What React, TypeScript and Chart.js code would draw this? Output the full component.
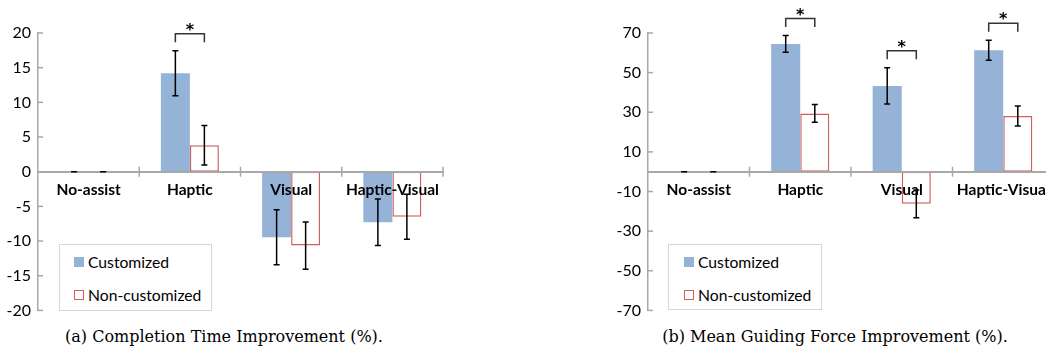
import React, { useEffect, useRef } from "react";
import { Chart, registerables } from "chart.js";
Chart.register(...registerables);

const categories = ["No-assist", "Haptic", "Visual", "Haptic-Visual"];
const seriesNames = ["Customized", "Non-customized"];

// (a) Completion time improvement (%)
const timeCustomized = [0, 14.2, -9.45, -7.3];
const timeCustomizedErr = [0, 3.25, 3.95, 3.35];
const timeNonCustomized = [0, 3.8, -10.65, -6.5];
const timeNonCustomizedErr = [0, 2.85, 3.4, 3.25];
const timeSignificant = [false, true, false, false];
const timeTicks = [-20, -15, -10, -5, 0, 5, 10, 15, 20];
const timeCaption = "(a) Completion Time Improvement (%).";

// (b) Mean guiding force improvement (%)
const forceCustomized = [0, 64.5, 43.3, 61.3];
const forceCustomizedErr = [0, 4.2, 9.1, 5.0];
const forceNonCustomized = [0, 29.4, -16.2, 28.1];
const forceNonCustomizedErr = [0, 4.5, 7.0, 5.0];
const forceSignificant = [false, true, true, true];
const forceTicks = [-70, -50, -30, -10, 10, 30, 50, 70];
const forceCaption = "(b) Mean Guiding Force Improvement (%).";

const BLUE = "#95B3D7";
const RED = "#D06060";
const AXIS = "#A8A8A8";
const SANS = "Lato, 'Open Sans', sans-serif";
const CANVAS_H = 327;

function makeOverlay(errs: number[][], sig: boolean[], ticks: number[]) {
  return {
    id: "overlay",
    afterDraw(chart: any) {
      const ctx = chart.ctx;
      const xs = chart.scales.x;
      const ys = chart.scales.y;
      const y0 = ys.getPixelForValue(0);
      const n = categories.length;
      const cw = (xs.right - xs.left) / n;
      ctx.save();
      // category separators across the zero line
      ctx.strokeStyle = AXIS;
      ctx.lineWidth = 1.5;
      for (let i = 1; i <= n; i++) {
        const px = xs.left + i * cw;
        ctx.beginPath();
        ctx.moveTo(px, y0 - 5);
        ctx.lineTo(px, y0 + 5);
        ctx.stroke();
      }
      // inward y tick marks
      for (const t of ticks) {
        const py = ys.getPixelForValue(t);
        ctx.beginPath();
        ctx.moveTo(ys.right, py);
        ctx.lineTo(ys.right + 5, py);
        ctx.stroke();
      }
      // error bars
      ctx.strokeStyle = "#000";
      ctx.lineWidth = 1.5;
      const tops: number[][] = [];
      chart.data.datasets.forEach((ds: any, di: number) => {
        const meta = chart.getDatasetMeta(di);
        tops[di] = [];
        meta.data.forEach((el: any, i: number) => {
          const v = ds.data[i];
          const e = errs[di][i];
          const yt = ys.getPixelForValue(v + e);
          const yb = ys.getPixelForValue(v - e);
          tops[di][i] = yt;
          ctx.beginPath();
          ctx.moveTo(el.x, yt);
          ctx.lineTo(el.x, yb);
          ctx.moveTo(el.x - 3, yt);
          ctx.lineTo(el.x + 3, yt);
          ctx.moveTo(el.x - 3, yb);
          ctx.lineTo(el.x + 3, yb);
          ctx.stroke();
        });
      });
      // significance brackets
      const m0 = chart.getDatasetMeta(0);
      const m1 = chart.getDatasetMeta(1);
      sig.forEach((s, i) => {
        if (!s) return;
        const x1 = m0.data[i].x;
        const x2 = m1.data[i].x;
        const top = Math.min(tops[0][i], tops[1][i]) - 17;
        ctx.strokeStyle = "#333";
        ctx.lineWidth = 1.5;
        ctx.beginPath();
        ctx.moveTo(x1, top + 8.5);
        ctx.lineTo(x1, top);
        ctx.lineTo(x2, top);
        ctx.lineTo(x2, top + 8.5);
        ctx.stroke();
        ctx.fillStyle = "#000";
        ctx.font = "bold 16px 'DejaVu Sans'";
        ctx.textAlign = "center";
        ctx.textBaseline = "alphabetic";
        ctx.fillText("*", (x1 + x2) / 2, top + 1);
      });
      ctx.restore();
    },
  };
}

function BarPanel(props: {
  left: number;
  width: number;
  yAxisWidth: number;
  padRight: number;
  cust: number[];
  custErr: number[];
  non: number[];
  nonErr: number[];
  sig: boolean[];
  ticks: number[];
}) {
  const ref = useRef<HTMLCanvasElement>(null);
  useEffect(() => {
    const { cust, custErr, non, nonErr, sig, ticks, yAxisWidth, padRight } = props;
    const chart = new Chart(ref.current!, {
      type: "bar",
      data: {
        labels: categories,
        datasets: [
          {
            label: seriesNames[0],
            data: cust,
            backgroundColor: BLUE,
            borderWidth: 0,
            barPercentage: 1,
            categoryPercentage: 0.573,
          },
          {
            label: seriesNames[1],
            data: non,
            backgroundColor: "#FFFFFF",
            borderColor: RED,
            borderWidth: 1.5,
            borderSkipped: false,
            barPercentage: 1,
            categoryPercentage: 0.573,
          },
        ],
      },
      options: {
        animation: false,
        responsive: false,
        devicePixelRatio: 1,
        layout: { padding: { top: 33, bottom: 10, left: 0, right: padRight } },
        plugins: { legend: { display: false }, tooltip: { enabled: false } },
        scales: {
          x: {
            type: "category",
            position: { y: 0 } as any,
            offset: true,
            grid: { display: false, drawTicks: false },
            border: { display: true, color: AXIS, width: 2, z: 1 },
            ticks: {
              z: 1,
              color: "#000",
              padding: 9,
              autoSkip: false,
              maxRotation: 0,
              font: { family: SANS, size: 15.5, weight: "bold" },
            },
          },
          y: {
            min: ticks[0],
            max: ticks[ticks.length - 1],
            afterBuildTicks: (s: any) => {
              s.ticks = ticks.map((v) => ({ value: v }));
            },
            afterFit: (s: any) => {
              s.width = yAxisWidth;
            },
            grid: { display: false, drawTicks: false },
            border: { display: true, color: AXIS, width: 1.5 },
            ticks: {
              color: "#000",
              padding: 7,
              font: { family: SANS, size: 16 },
            },
          },
        },
      },
      plugins: [makeOverlay([custErr, nonErr], sig, ticks)],
    });
    return () => chart.destroy();
  }, []);
  return (
    <canvas
      ref={ref}
      width={props.width}
      height={CANVAS_H}
      style={{ position: "absolute", left: props.left, top: 0, width: props.width, height: CANVAS_H }}
    />
  );
}

function Legend(props: { left: number; top: number; width: number; height: number; swatchLeft: number }) {
  const rowStyle = (top: number): React.CSSProperties => ({
    position: "absolute",
    left: props.swatchLeft,
    top,
    height: 20,
    display: "flex",
    alignItems: "center",
    whiteSpace: "nowrap",
  });
  return (
    <div
      style={{
        position: "absolute",
        left: props.left,
        top: props.top,
        width: props.width,
        height: props.height,
        border: "1.5px solid #D6D6D6",
        boxSizing: "border-box",
        background: "#fff",
        fontFamily: SANS,
        fontSize: 15.7,
        color: "#000",
      }}
    >
      <div style={rowStyle(7)}>
        <span style={{ display: "inline-block", width: 10, height: 10, background: BLUE, marginRight: 4 }} />
        {seriesNames[0]}
      </div>
      <div style={rowStyle(40)}>
        <span
          style={{
            display: "inline-block",
            width: 10,
            height: 10,
            border: "1.5px solid " + RED,
            boxSizing: "border-box",
            marginRight: 4,
          }}
        />
        {seriesNames[1]}
      </div>
    </div>
  );
}

function Caption(props: { center: number; text: string }) {
  return (
    <div
      style={{
        position: "absolute",
        left: props.center - 250,
        width: 500,
        top: 327,
        textAlign: "center",
        fontFamily: "'DejaVu Serif', serif",
        fontSize: 16,
        lineHeight: "20px",
        color: "#000",
        whiteSpace: "nowrap",
      }}
    >
      {props.text}
    </div>
  );
}

export default function App() {
  return (
    <div
      style={{
        position: "absolute",
        left: 0,
        top: 0,
        width: 1046,
        height: 350,
        overflow: "hidden",
        background: "#fff",
      }}
    >
      <BarPanel
        left={0}
        width={460}
        yAxisWidth={38}
        padRight={17}
        cust={timeCustomized}
        custErr={timeCustomizedErr}
        non={timeNonCustomized}
        nonErr={timeNonCustomizedErr}
        sig={timeSignificant}
        ticks={timeTicks}
      />
      <BarPanel
        left={600}
        width={470}
        yAxisWidth={48}
        padRight={16}
        cust={forceCustomized}
        custErr={forceCustomizedErr}
        non={forceNonCustomized}
        nonErr={forceNonCustomizedErr}
        sig={forceSignificant}
        ticks={forceTicks}
      />
      <Legend left={59} top={244} width={153} height={67} swatchLeft={14} />
      <Legend left={668} top={244} width={154} height={66} swatchLeft={15} />
      <Caption center={224} text={timeCaption} />
      <Caption center={835} text={forceCaption} />
    </div>
  );
}
